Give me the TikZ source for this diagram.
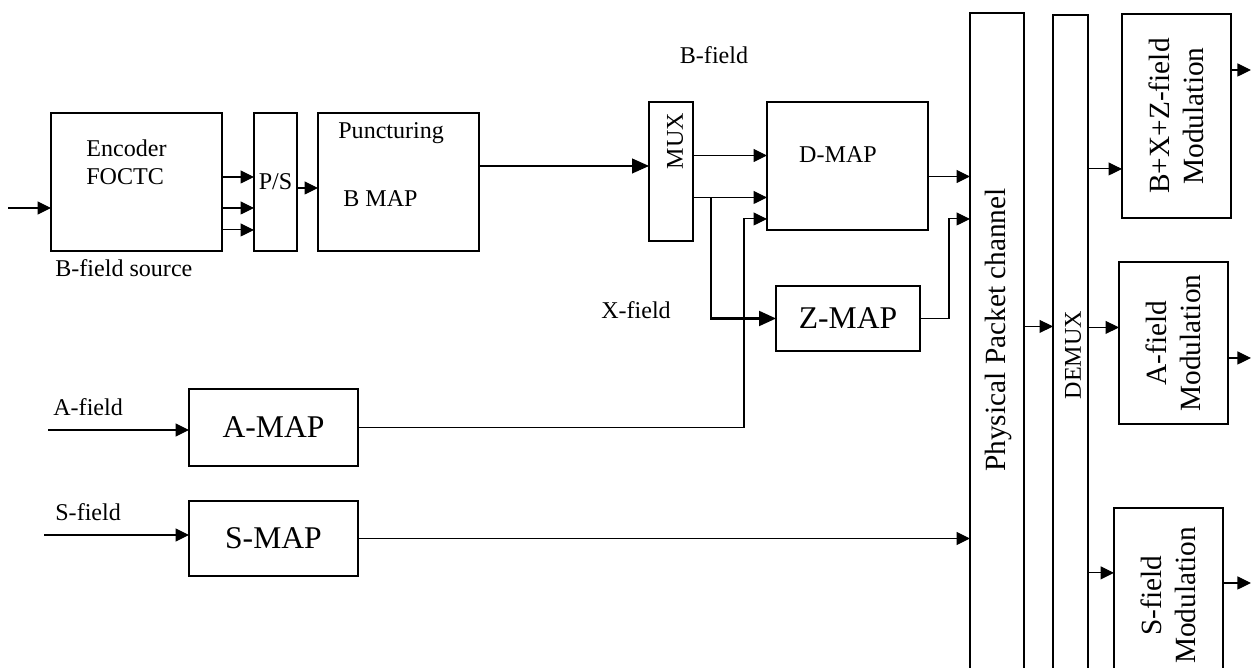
\documentclass[tikz,border=0pt]{standalone}
\usepackage{fontspec}
\setmainfont{Liberation Serif}
\usetikzlibrary{arrows.meta,positioning,calc}
\newcommand{\smallfnt}{\fontsize{13.7}{16}\selectfont}
\newcommand{\bigfnt}{\fontsize{18}{21}\selectfont}
\newcommand{\rotfnt}{\fontsize{16.7}{19}\selectfont}
\tikzset{
  blk/.style={draw, line width=0.7pt, inner sep=0pt, outer sep=0pt,
              anchor=north west, font=\bigfnt},
  arr/.style={-{Triangle[length=2.7mm,width=2.6mm]}, line width=0.6pt},
  barr/.style={-{Triangle[length=3.4mm,width=3mm]}, line width=0.6pt},
  lbl/.style={font=\smallfnt, inner sep=0pt},
  rlbl/.style={font=\rotfnt, rotate=90, align=center, inner sep=0pt},
}

\begin{document}
\begin{tikzpicture}[x=0.02cm, y=-0.02cm]
    \useasboundingbox (0,0) rectangle (1252,668);

    \node[blk, minimum width=3.42cm, minimum height=2.76cm] (enc) at (51,113) {};
    \node[blk, minimum width=0.86cm, minimum height=2.76cm, font=\smallfnt] (ps) at (254,113) {P/S};
    \node[blk, minimum width=3.22cm, minimum height=2.76cm] (punct) at (318,113) {};
    \node[blk, minimum width=0.88cm, minimum height=2.78cm] (mux) at (649,102) {};
    \node[blk, minimum width=3.22cm, minimum height=2.56cm] (dmap) at (767,102) {};
    \node[blk, minimum width=2.88cm, minimum height=1.3cm] (zmap) at (776,286) {Z-MAP};
    \node[blk, minimum width=3.38cm, minimum height=1.54cm] (amap) at (189,389) {A-MAP};
    \node[blk, minimum width=3.38cm, minimum height=1.5cm] (smap) at (189,501) {S-MAP};
    \node[blk, minimum width=1.08cm, minimum height=13.6cm] (phy) at (970,13) {};
    \node[blk, minimum width=0.7cm, minimum height=13.6cm] (demux) at (1053,15) {};
    \node[blk, minimum width=2.18cm, minimum height=4.08cm] (bxz) at (1122,14) {};
    \node[blk, minimum width=2.18cm, minimum height=3.24cm] (amod) at (1119,262) {};
    \node[blk, minimum width=2.18cm, minimum height=3.7cm] (smod) at (1114,508) {};

    \node[lbl, anchor=west, align=left] (enct) at (86,162) {Encoder\\FOCTC};
    \node[lbl, anchor=west] (srct) at (55,268) {B-field source};
    \node[lbl, anchor=west] (punt) at (338,133) {Puncturing};
    \node[lbl, anchor=west] (bmapt) at (343,199) {B MAP};
    \node[lbl, rotate=90] (muxt) at (675,141) {MUX};
    \node[lbl] (dmapt) at (838,155) {D-MAP};
    \node[lbl] (bft) at (714,55) {B-field};
    \node[lbl] (xft) at (636,310) {X-field};
    \node[lbl, anchor=west] (aft) at (53,407) {A-field};
    \node[lbl, anchor=west] (sft) at (55,512) {S-field};
    \node[rlbl] (phyt) at (998,330) {Physical Packet channel};
    \node[lbl, rotate=90] (demuxt) at (1073,355) {DEMUX};
    \node[rlbl] (bxzt) at (bxz) {B+X+Z-field\\Modulation};
    \node[rlbl] (amodt) at (amod) {A-field\\Modulation};
    \node[rlbl] (smodt) at ([yshift=0.1cm]smod) {S-field\\Modulation};

    \coordinate (bin) at (8,208);
    \coordinate (ain) at (48,430);
    \coordinate (sin) at (44,535);
    \draw[arr] (bin) -- (bin -| enc.west);
    \draw[arr] (ain) -- (ain -| amap.west);
    \draw[arr] (sin) -- (sin -| smap.west);

    \draw[arr] ([yshift=0.1cm]enc.east) -- ([yshift=0.1cm]ps.west);
    \draw[arr] ([yshift=-0.52cm]enc.east) -- ([yshift=-0.52cm]ps.west);
    \draw[arr] ([yshift=-0.96cm]enc.east) -- ([yshift=-0.96cm]ps.west);
    \draw[arr] ([yshift=-0.12cm]ps.east) -- ([yshift=-0.12cm]punct.west);

    \coordinate (p1) at ([yshift=0.32cm]punct.east);
    \draw[barr] (p1) -- (p1 -| mux.west);

    \coordinate (m1) at ([yshift=0.32cm]mux.east);
    \coordinate (m2) at ([yshift=-0.52cm]mux.east);
    \draw[arr] (m1) -- (m1 -| dmap.west);
    \draw[arr] (m2) -- (m2 -| dmap.west);
    \coordinate (br) at ([xshift=0.36cm]m2);
    \draw[barr, line width=1.2pt] (br) |- (zmap.west);

    \coordinate (d3) at ([yshift=-1.06cm]dmap.west);
    \draw[arr] (amap.east) -| ([xshift=-0.46cm]d3) -- (d3);

    \coordinate (d4) at ([yshift=-0.21cm]dmap.east);
    \draw[arr] (d4) -- (d4 -| phy.west);
    \coordinate (zk) at ([xshift=0.58cm]zmap.east);
    \draw[arr] (zmap.east) -- (zk) |- (d3 -| phy.west);
    \draw[arr] (smap.east) -- (smap.east -| phy.west);

    \coordinate (c1) at ([yshift=0.53cm]phy.east);
    \draw[arr] (c1) -- (c1 -| demux.west);

    \coordinate (q1) at ([yshift=3.72cm]demux.east);
    \coordinate (q2) at ([yshift=0.55cm]demux.east);
    \coordinate (q3) at ([yshift=-4.36cm]demux.east);
    \draw[arr] (q1) -- (q1 -| bxz.west);
    \draw[arr] (q2) -- (q2 -| amod.west);
    \draw[arr] (q3) -- (q3 -| smod.west);

    \draw[arr] ([yshift=0.92cm]bxz.east) -- ++(0.4cm,0);
    \draw[arr] ([yshift=-0.3cm]amod.east) -- ++(0.46cm,0);
    \draw[arr] ([yshift=0.35cm]smod.east) -- ++(0.56cm,0);
\end{tikzpicture}
\end{document}
